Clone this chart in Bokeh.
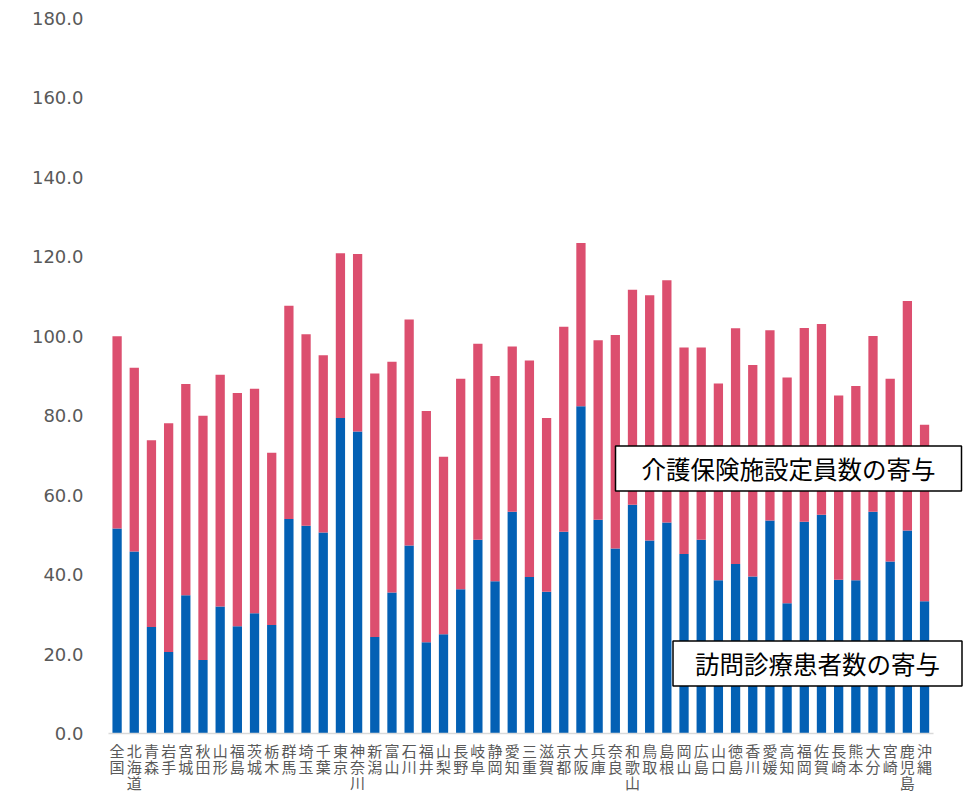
from bokeh.plotting import figure
from bokeh.models import (ColumnDataSource, Range1d, FactorRange, NumeralTickFormatter, Label,
                          CustomJSTickFormatter)
from bokeh.embed import file_html
from bokeh.resources import INLINE

# ---- data ----
prefectures = ["全国", "北海道", "青森", "岩手", "宮城", "秋田", "山形", "福島", "茨城", "栃木",
               "群馬", "埼玉", "千葉", "東京", "神奈川", "新潟", "富山", "石川", "福井", "山梨",
               "長野", "岐阜", "静岡", "愛知", "三重", "滋賀", "京都", "大阪", "兵庫", "奈良",
               "和歌山", "鳥取", "島根", "岡山", "広島", "山口", "徳島", "香川", "愛媛", "高知",
               "福岡", "佐賀", "長崎", "熊本", "大分", "宮崎", "鹿児島", "沖縄"]

# 訪問診療患者数の寄与
home_visit = [51.6, 45.8, 26.8, 20.5, 34.8, 18.5, 32.0, 27.0, 30.3, 27.3,
              54.0, 52.3, 50.6, 79.4, 76.0, 24.3, 35.5, 47.3, 23.0, 25.0,
              36.3, 48.8, 38.3, 55.8, 39.4, 35.7, 50.8, 82.4, 53.8, 46.6,
              57.6, 48.6, 53.1, 45.2, 48.8, 38.6, 42.7, 39.5, 53.6, 32.8,
              53.3, 55.1, 38.7, 38.6, 55.8, 43.3, 51.1, 33.3]

# 介護保険施設定員数の寄与
care_facility = [48.4, 46.3, 47.0, 57.6, 53.2, 61.5, 58.3, 58.7, 56.5, 43.4,
                 53.7, 48.2, 44.6, 41.5, 44.7, 66.3, 58.1, 56.9, 58.2, 44.7,
                 53.0, 49.3, 51.7, 41.6, 54.5, 43.7, 51.6, 41.1, 45.2, 53.7,
                 54.1, 61.7, 61.0, 52.0, 48.4, 49.5, 59.3, 53.3, 47.9, 56.8,
                 48.8, 48.0, 46.4, 48.9, 44.3, 46.0, 57.8, 44.4]

series_names = ["訪問診療患者数の寄与", "介護保険施設定員数の寄与"]
y_ticks = [0, 20, 40, 60, 80, 100, 120, 140, 160, 180]

# two empty slots on the right leave room for the annotation boxes
spare = [" ", "  "]
factors = prefectures + spare

source = ColumnDataSource(dict(pref=prefectures, visit=home_visit, care=care_facility))

p = figure(width=973, height=796,
           x_range=FactorRange(*factors, range_padding=0),
           y_range=Range1d(0, 180),
           output_backend="svg", toolbar_location=None,
           min_border_left=108, min_border_right=6,
           min_border_top=18, min_border_bottom=60)

p.vbar_stack(["visit", "care"], x="pref", width=0.54, source=source,
             color=["#0360B4", "#DC4F6F"], line_color=None)

p.outline_line_color = None
p.xgrid.grid_line_color = None
p.ygrid.grid_line_color = None
p.background_fill_color = "white"
p.border_fill_color = "white"

# y axis
p.yaxis.ticker = y_ticks
p.yaxis.formatter = NumeralTickFormatter(format="0.0")
p.yaxis.axis_line_color = None
p.yaxis.major_tick_line_color = None
p.yaxis.minor_tick_line_color = None
p.yaxis.major_label_text_font = "DejaVu Sans"
p.yaxis.major_label_text_font_size = "18px"
p.yaxis.major_label_text_color = "#595959"
p.yaxis.major_label_standoff = 19

# x axis: names written vertically, one character per line
xa = p.xaxis[0]
xa.axis_line_color = "#D9D9D9"
xa.axis_line_width = 1.5
xa.bounds = (0, len(prefectures))
xa.major_tick_line_color = None
xa.minor_tick_line_color = None
xa.major_label_text_font = "Noto Sans CJK JP"
xa.major_label_text_font_size = "15px"
xa.major_label_text_color = "#595959"
xa.major_label_text_line_height = 0.78
xa.major_label_standoff = 0
xa.formatter = CustomJSTickFormatter(code="return tick.trim().split('').join('\\n');")

# annotation boxes
lab1 = Label(x=680, y=265, x_units="screen", y_units="screen",
             text=series_names[1], text_font="Noto Sans CJK JP", text_font_size="24.5px",
             text_color="black", text_align="center", text_baseline="middle",
             background_fill_color="white", border_line_color="black", border_line_width=1.5,
             padding=dict(left=26, right=26, top=5, bottom=5))
lab2 = Label(x=709, y=70, x_units="screen", y_units="screen",
             text=series_names[0], text_font="Noto Sans CJK JP", text_font_size="24.5px",
             text_color="black", text_align="center", text_baseline="middle",
             background_fill_color="white", border_line_color="black", border_line_width=1.5,
             padding=dict(left=22, right=22, top=5, bottom=5))
p.add_layout(lab1)
p.add_layout(lab2)

open("out.html", "w").write(file_html(p, INLINE))
